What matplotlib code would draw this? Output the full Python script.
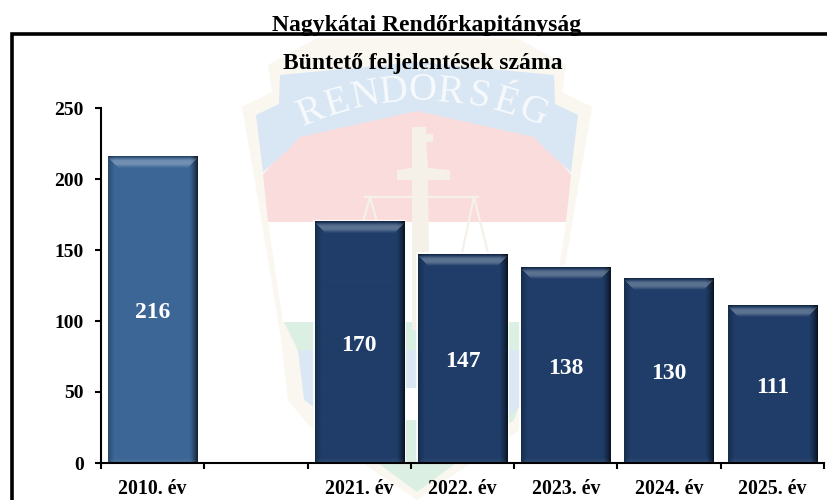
"""Nagykatai Rendorkapitanysag - feljelentesek szama bar chart."""

import matplotlib.pyplot as plt
import numpy as np
from matplotlib.colors import to_rgb
from matplotlib.lines import Line2D
from matplotlib.patches import Polygon, Rectangle

W, H = 828, 500

labels = ["2010. év", "", "2021. év", "2022. év", "2023. év", "2024. év", "2025. év"]
values = [216, None, 170, 147, 138, 130, 111]
bar_colors = ["#3c6696", None, "#1f3d68", "#1f3d68", "#1f3d68", "#1f3d68", "#1f3d68"]
y_ticks = [0, 50, 100, 150, 200, 250]

plt.rcParams["font.family"] = ["Liberation Serif", "DejaVu Serif"]
plt.rcParams["font.weight"] = "bold"


def px(pts):
    """Pixel coordinates (y down) to figure fractions."""
    return [(x / W, 1 - y / H) for x, y in pts]


def mirror(pts):
    """Close a left-half outline with its mirror image around the crest axis."""
    return pts + [(834 - x, y) for x, y in reversed(pts)]


def bevel_image(color, w, h):
    """RGB image of a bar with bevelled edges, w x h pixels."""
    base = np.array(to_rgb(color))
    ii, jj = np.mgrid[0:h, 0:w]
    d_top, d_bot = ii, h - 1 - ii
    d_left, d_right = jj, w - 1 - jj
    img = np.ones((h, w, 3)) * base

    # sides fade to dark over the outer pixels
    dark = np.maximum(np.clip(1 - d_left / 6, 0, 1) * 0.25, np.clip(1 - d_right / 8, 0, 1) ** 1.3 * 0.65)
    img *= (1 - dark)[..., None]

    # light strip below the top edge, mitred at the ends
    top = np.clip(1.4 - np.abs(d_top - 6) / 4, 0, 1) * (d_top <= np.minimum(d_left, d_right) + 1)
    img += (1 - img) * (top * 0.27)[..., None]
    edge = np.clip(1 - d_top / 2.5, 0, 1) * 0.3
    img *= (1 - edge)[..., None]

    # faint lighter strip at the foot
    foot = np.clip(1 - d_bot / 5, 0, 1) * (d_bot <= np.minimum(d_left, d_right))
    img += (1 - img) * (foot * 0.07)[..., None]
    return img


fig = plt.figure(figsize=(W / 100, H / 100), dpi=100, facecolor="white")

# Crest watermark behind the chart
crest = [
    ("#f9f7f0", mirror([(417, 37), (317, 38), (268, 65), (272, 92), (242, 107), (258, 200), (280, 333),
                        (288, 400), (310, 427), (417, 500)])),
    ("#fbdcdc", mirror([(417, 108), (300, 130), (263, 175), (268, 222), (417, 222)])),
    ("#d9e6f3", mirror([(417, 62), (280, 75), (279, 104), (256, 115), (263, 172), (287, 151), (300, 137),
                        (417, 111)])),
    ("#ffffff", mirror([(417, 222), (268, 222), (283, 322), (417, 322)])),
    ("#dcefe3", mirror([(417, 322), (284, 322), (296, 346), (320, 420), (417, 492)])),
    ("#dbe8f4", mirror([(417, 350), (298, 350), (304, 400), (325, 415), (417, 415)])),
    ("#ffffff", [(405, 388), (429, 388), (429, 420), (405, 420)]),
    ("#f5f1e9", [(412, 127), (426, 127), (426, 134), (433, 134), (433, 142), (426, 142), (428, 168),
                 (450, 170), (450, 180), (428, 180), (430, 330), (412, 330), (412, 180), (397, 180),
                 (397, 170), (412, 168)]),
]
for color, pts in crest:
    fig.add_artist(Polygon(px(pts), closed=True, transform=fig.transFigure, facecolor=color,
                           edgecolor="none", zorder=-5))

# scales of the crest
for x0, y0, x1, y1 in [(365, 197, 478, 197), (370, 197, 358, 240), (370, 197, 382, 240),
                       (474, 197, 462, 253), (474, 197, 488, 253)]:
    fig.add_artist(Line2D([x0 / W, x1 / W], [1 - y0 / H, 1 - y1 / H], transform=fig.transFigure,
                          color="#f5f1e9", linewidth=1.6, zorder=-4.5))

# arched ribbon lettering
ribbon = "RENDŐRSÉG"
arc_r = 296
for t, ch in zip(np.linspace(-22, 22, len(ribbon)), ribbon):
    tx = 422 + arc_r * np.sin(np.radians(t))
    ty = 91 + arc_r * (1 - np.cos(np.radians(t)))
    fig.text(tx / W, 1 - ty / H, ch, color="#f7fafd", fontsize=28, ha="center", va="center",
             rotation=-t, weight="normal", zorder=-4)

# Outer frame, runs off the bottom and right of the image
fig.add_artist(Rectangle((12 / W, 1 - 510 / H), 830 / W, 476 / H, transform=fig.transFigure,
                         facecolor="none", edgecolor="black", linewidth=2.6, zorder=3))

ax = fig.add_axes([101 / W, 1 - 463 / H, 723 / W, 355 / H], facecolor="none")

x_pos = np.arange(len(labels))
bar_w = 0.865
for x, v, c in zip(x_pos, values, bar_colors):
    if v is None:
        continue
    # white glow round the bar hides the watermark
    ax.bar(x, v, width=bar_w, color=c, edgecolor="white", linewidth=3, alpha=0.8, zorder=1.5)
    ax.bar(x, v, width=bar_w, color=c, linewidth=0, zorder=2)
    h_px = int(round(v / 250 * 355))
    ax.imshow(bevel_image(c, 90, h_px), extent=(x - bar_w / 2, x + bar_w / 2, 0, v), aspect="auto",
              interpolation="bilinear", zorder=3)
    ax.annotate(str(v), (x, v / 2), xytext=(0, -2.2), textcoords="offset points", color="white",
                ha="center", va="center", fontsize=17, zorder=5)

ax.set_xlim(-0.5, len(labels) - 0.5)
ax.set_ylim(0, 250)
ax.set_yticks(y_ticks)
ax.set_xticks(np.arange(len(labels) + 1) - 0.5)
ax.set_xticklabels([])
ax.set_xticks(x_pos, labels=labels, minor=True)
ax.tick_params(axis="x", which="major", direction="out", length=4.5, width=1.5, color="black")
ax.tick_params(axis="x", which="minor", length=0, labelsize=14.3, pad=11.5)
ax.tick_params(axis="y", direction="out", length=4.5, width=1.5, labelsize=14, pad=8)
for s in ["top", "right"]:
    ax.spines[s].set_visible(False)
for s in ["left", "bottom"]:
    ax.spines[s].set_linewidth(1.5)
    ax.spines[s].set_zorder(6)

fig.text(427 / W, 1 - 25.5 / H, "Nagykátai Rendőrkapitányság", ha="center", va="center", fontsize=17,
         color="black", zorder=6)
fig.text(423 / W, 1 - 64 / H, "Büntető feljelentések száma", ha="center", va="center", fontsize=17,
         color="black", zorder=6)

fig.savefig("out.png", dpi=100)
